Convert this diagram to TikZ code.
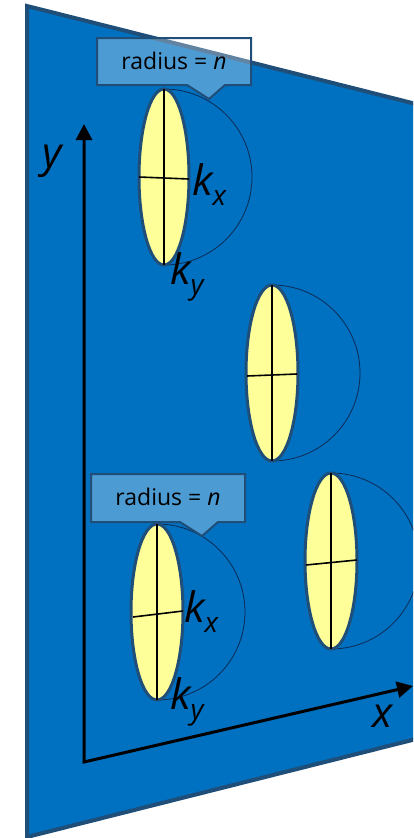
\documentclass[tikz,border=0pt]{standalone}
\usepackage{fontspec}
\setmainfont{Open Sans}
\usetikzlibrary{arrows.meta}
\definecolor{planeblue}{HTML}{0070C0}
\definecolor{edgeblue}{HTML}{1F4E79}
\definecolor{lenscol}{HTML}{FFFF99}
\definecolor{arcblue}{HTML}{0D2B55}
\begin{document}
\begin{tikzpicture}[x=1pt,y=-1pt,
  plane/.style={fill=planeblue,draw=edgeblue,line width=4pt,line join=miter},
  lens/.style={fill=lenscol,draw=edgeblue,line width=3pt},
  hemi/.style={draw=arcblue,line width=0.8pt},
  cross/.style={draw=black,line width=1.6pt},
  callout/.style={fill=white,fill opacity=0.3,draw=edgeblue,draw opacity=1,line width=2pt,line join=miter},
  axis/.style={draw=black,line width=3pt,line join=miter,{Triangle[width=16pt,length=16pt]}-{Triangle[width=16pt,length=16pt]}},
  lbl/.style={inner sep=0pt,anchor=base west,font=\fontsize{42}{42}\selectfont\itshape},
  axlbl/.style={inner sep=0pt,anchor=base west,font=\fontsize{42}{42}\selectfont\itshape},
  ctext/.style={inner sep=0pt,font=\fontsize{23}{27}\selectfont}
]
\useasboundingbox (0,0) rectangle (413,838);
\clip (0,0) rectangle (413,838);
% plane
\draw[plane] (27,6) -- (440,110) -- (440,733) -- (27,837) -- cycle;
% hemispheres
\draw[hemi] (164,89) arc[start angle=-90,end angle=90,radius=88];
\draw[hemi] (272,285) arc[start angle=-90,end angle=90,radius=88];
\draw[hemi] (157,524) arc[start angle=-90,end angle=90,radius=88];
\draw[hemi] (331,473) arc[start angle=-90,end angle=90,radius=88];
% lenses
\draw[lens] (164,177) ellipse[x radius=25,y radius=88];
\draw[lens] (272,373) ellipse[x radius=26,y radius=88];
\draw[lens] (157,612) ellipse[x radius=26,y radius=88];
\draw[lens] (331,561) ellipse[x radius=26,y radius=88];
% crosses
\draw[cross] (164,89) -- (164,265);
\draw[cross] (139,177) -- (189,179);
\draw[cross] (272,285) -- (272,461);
\draw[cross] (247,376) -- (297,374);
\draw[cross] (157,524) -- (157,700);
\draw[cross] (133,617) -- (183,611);
\draw[cross] (331,473) -- (331,649);
\draw[cross] (306,565) -- (357,560);
% callouts
\draw[callout] (97,38) -- (251,38) -- (251,85) -- (225,85) -- (209,99) -- (187,85) -- (97,85) -- cycle;
\node[ctext] (c1) at (174,61) {radius = \textit{n}};
\draw[callout] (91,474) -- (245,474) -- (245,522) -- (218,522) -- (202,536) -- (180,522) -- (91,522) -- cycle;
\node[ctext] (c2) at (168,497) {radius = \textit{n}};
% axes
\coordinate (O) at (84,762);
\coordinate (ytip) at (84,124);
\coordinate (xtip) at (413,686);
\draw[axis] (ytip) -- (O) -- (xtip);
\node[axlbl] (ylab) at (42,167) {y};
\node[axlbl] (xlab) at (372,727) {x};
% k labels
\node[lbl] (kx1) at (192,195) {k\raisebox{-10pt}{\fontsize{28}{28}\selectfont x}};
\node[lbl] (ky1) at (170,284) {k\raisebox{-10pt}{\fontsize{28}{28}\selectfont y}};
\node[lbl] (kx3) at (184,622) {k\raisebox{-10pt}{\fontsize{28}{28}\selectfont x}};
\node[lbl] (ky3) at (170,709) {k\raisebox{-10pt}{\fontsize{28}{28}\selectfont y}};
\end{tikzpicture}
\end{document}
